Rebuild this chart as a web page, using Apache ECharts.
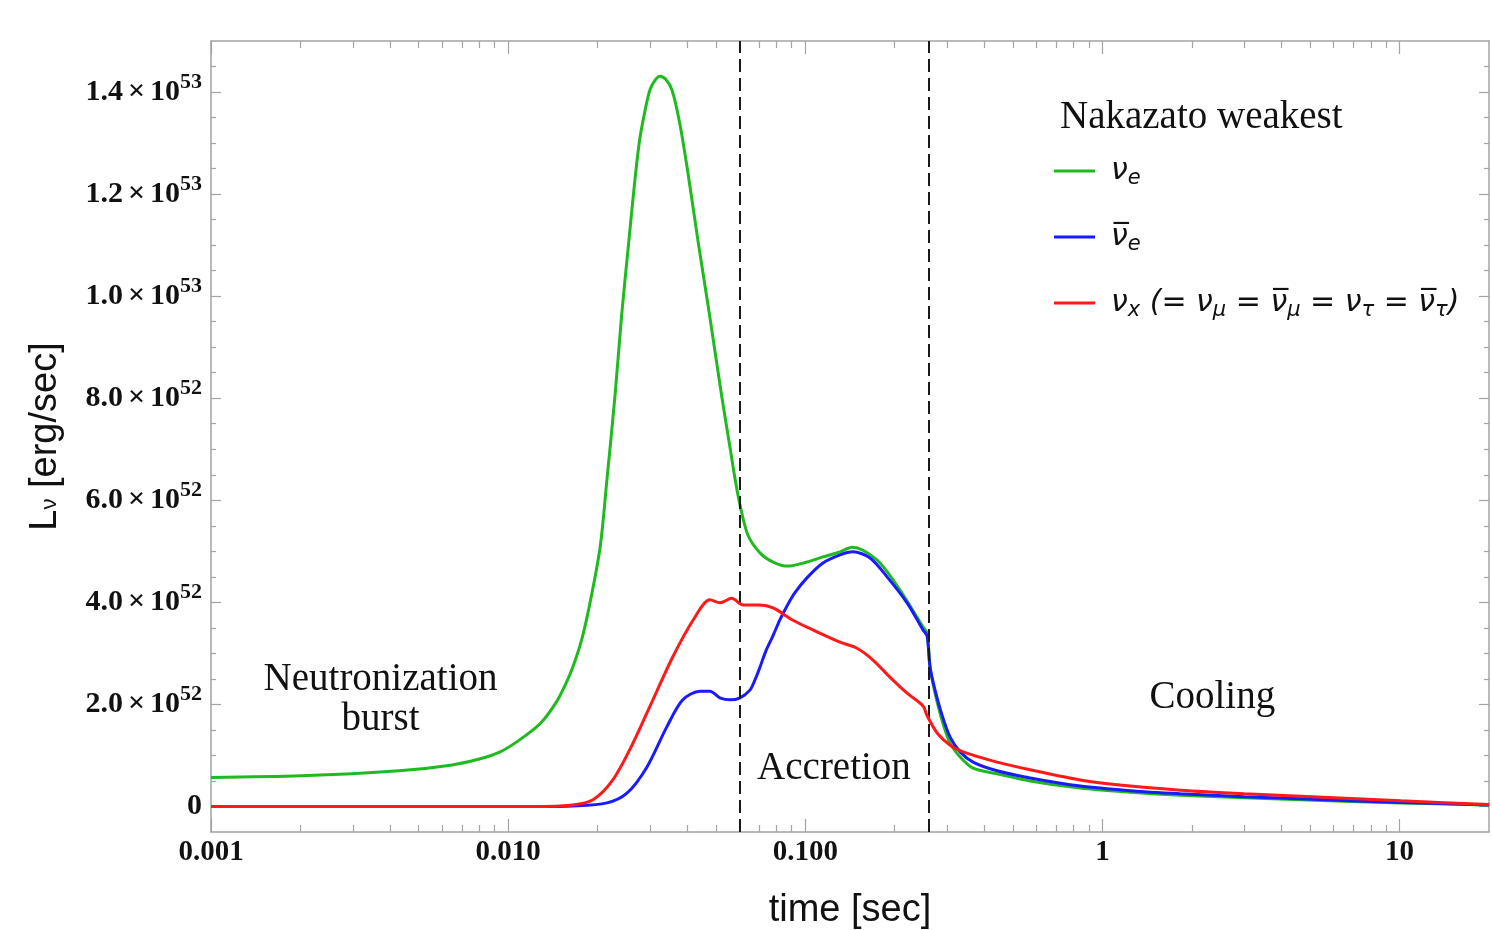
<!DOCTYPE html>
<html>
<head>
<meta charset="utf-8">
<script src="https://cdn.jsdelivr.net/npm/echarts@6/dist/echarts.min.js"></script>
<style>
  html, body { margin: 0; padding: 0; background: #fff; }
  #chart { width: 1492px; height: 930px; }
</style>
</head>
<body>
<div id="chart"></div>
<script>
// Neutrino luminosities, in units of 1e52 erg/sec, against time after bounce [sec]
const nueTime = [0.001, 0.002, 0.0043, 0.0064, 0.008, 0.0094, 0.0109, 0.0128, 0.0144, 0.0155,
  0.0165, 0.0177, 0.0188, 0.0204, 0.0215, 0.0229, 0.0241, 0.0255, 0.0267, 0.0277,
  0.0289, 0.030, 0.0312, 0.0324, 0.0339, 0.0356, 0.0378, 0.0403, 0.0435, 0.0478,
  0.0524, 0.0558, 0.058, 0.0603, 0.0641, 0.0704, 0.0779, 0.0874, 0.1013, 0.1147,
  0.1309, 0.1437, 0.1564, 0.1785, 0.2084, 0.249, 0.257, 0.263, 0.2734, 0.2886,
  0.3072, 0.332, 0.367, 0.442, 0.571, 0.842, 1.24, 1.83, 3.0, 4.64, 10.1, 20];
const nueLum = [0.57, 0.60, 0.70, 0.81, 0.93, 1.07, 1.30, 1.62, 2.01, 2.36,
  2.73, 3.28, 3.95, 5.08, 6.40, 8.06, 9.63, 11.10, 12.27, 13.06,
  13.64, 14.04, 14.23, 14.31, 14.25, 14.04, 13.39, 12.41, 11.10, 9.57,
  8.02, 7.04, 6.43, 5.91, 5.32, 4.97, 4.79, 4.71, 4.79, 4.89,
  4.99, 5.08, 5.02, 4.77, 4.24, 3.52, 3.40, 2.73, 2.22, 1.69,
  1.24, 0.97, 0.75, 0.64, 0.50, 0.36, 0.28, 0.22, 0.17, 0.13, 0.07, 0.03];

const nuebarTime = [0.001, 0.008, 0.0125, 0.0165, 0.0215, 0.0251, 0.0293, 0.0342, 0.0387, 0.0442,
  0.0478, 0.0516, 0.0558, 0.0603, 0.0651, 0.0677, 0.0704, 0.0737, 0.0779, 0.0822,
  0.0868, 0.0923, 0.1013, 0.1147, 0.1309, 0.1447, 0.1652, 0.1885, 0.2201, 0.249,
  0.257, 0.263, 0.2734, 0.2886, 0.3072, 0.332, 0.367, 0.442, 0.571, 0.842,
  1.24, 1.83, 3.0, 4.64, 10.1, 20];
const nuebarLum = [0, 0, 0, 0.01, 0.07, 0.26, 0.77, 1.56, 2.09, 2.26,
  2.26, 2.13, 2.09, 2.13, 2.28, 2.48, 2.73, 3.05, 3.35, 3.66,
  3.93, 4.19, 4.48, 4.77, 4.93, 4.99, 4.87, 4.50, 3.99, 3.46,
  3.34, 2.73, 2.28, 1.79, 1.36, 1.07, 0.87, 0.70, 0.56, 0.40,
  0.31, 0.25, 0.19, 0.15, 0.08, 0.03];

const nuxTime = [0.001, 0.008, 0.012, 0.0165, 0.0193, 0.0225, 0.0263, 0.0307, 0.0358, 0.0419,
  0.0478, 0.0516, 0.0566, 0.0617, 0.0704, 0.0779, 0.0909, 0.1061, 0.1309, 0.1493,
  0.169, 0.193, 0.2202, 0.249, 0.257, 0.2778, 0.3072, 0.3398, 0.442, 0.571,
  0.842, 1.24, 1.83, 3.0, 4.64, 10.1, 20];
const nuxLum = [0, 0, 0, 0.03, 0.13, 0.52, 1.24, 2.09, 2.93, 3.65,
  4.05, 3.99, 4.08, 3.95, 3.95, 3.89, 3.65, 3.46, 3.22, 3.10,
  2.87, 2.53, 2.22, 1.97, 1.78, 1.44, 1.20, 1.07, 0.87, 0.72,
  0.52, 0.40, 0.32, 0.25, 0.20, 0.11, 0.04];

// Phase boundaries [sec] and phase captions
const phaseBounds = [0.0607, 0.257];
const phaseNames = ['Neutronization\nburst', 'Accretion', 'Cooling'];
const phaseNameAt = [[0.00372, 2.09], [0.1249, 0.73], [2.343, 2.14]];

// Axis ticks
const xTicks = [0.001, 0.01, 0.1, 1, 10];
const xTickLabels = ['0.001', '0.010', '0.100', '1', '10'];
const yTicks = [0, 2, 4, 6, 8, 10, 12, 14];
const yTickLabels = ['0', '2.0×10^52', '4.0×10^52', '6.0×10^52', '8.0×10^52',
  '1.0×10^53', '1.2×10^53', '1.4×10^53'];

const seriesNames = ['nu_e', 'nubar_e', 'nu_x'];
const seriesColors = ['#1fba1f', '#1a1aff', '#ff1a1a'];
const legendTitle = 'Nakazato weakest';
const legendLabels = [
  '{p0|ν}{b|e}',
  '{p0|ν\u0305}{b|e}',
  '{p0|ν}{b|x}{p| (= ν}{b|μ}{p| = ν\u0305}{b|μ}{p| = ν}{b|τ}{p| = ν\u0305}{b|τ}{p|)}'
];

// Minor tick positions: 2..9 within each decade, and every 0.5 on the luminosity axis
const xMinor = [];
xTicks.forEach(d => { for (let k = 2; k <= 9; k++) { if (k * d < 20) xMinor.push(+(k * d).toPrecision(6)); } });
const yMinor = [];
for (let v = 0.5; v < 15; v += 0.5) { if (v % 2 !== 0) yMinor.push(v); }

const SERIF = '"Liberation Serif", "Times New Roman", serif';
const SANS = '"Liberation Sans", Arial, sans-serif';
const ITALIC_SANS = '"DejaVu Sans", "Liberation Sans", sans-serif';
const FRAME = '#a3a3a3';
const INK = '#111111';

const zip = (xs, ys) => xs.map((x, i) => [x, ys[i]]);

function xLabel(v) {
  for (let i = 0; i < xTicks.length; i++) {
    if (Math.abs(Math.log10(v) - Math.log10(xTicks[i])) < 1e-6) return xTickLabels[i];
  }
  return '';
}
function yLabel(v) {
  const i = yTicks.findIndex(t => Math.abs(t - v) < 1e-9);
  if (i < 0) return '';
  const s = yTickLabels[i];
  if (s.indexOf('×') < 0) return '{n|' + s + '}';
  const parts = s.split('×');
  const pw = parts[1].split('^');
  return '{n|' + parts[0] + '}{x|×}{n|' + pw[0] + '}{s|' + pw[1] + '}';
}

const xBase = { type: 'log', logBase: 10, min: 0.001, max: 20, splitLine: { show: false }, axisPointer: { show: false } };
const yBase = { type: 'value', min: -0.5, max: 15, splitLine: { show: false }, axisPointer: { show: false } };
const frameLine = { show: true, onZero: false, lineStyle: { color: FRAME, width: 1.5 } };
const noLine = { show: false, onZero: false };
const tickStyle = { color: FRAME, width: 1.2 };

const chart = echarts.init(document.getElementById('chart'), null, { renderer: 'canvas' });

const lineSeries = [[nueTime, nueLum], [nuebarTime, nuebarLum], [nuxTime, nuxLum]].map((s, i) => ({
  name: seriesNames[i],
  type: 'line',
  data: zip(s[0], s[1]),
  symbol: 'none',
  smooth: 0.3,
  color: seriesColors[i],
  itemStyle: { color: seriesColors[i] },
  lineStyle: { color: seriesColors[i], width: 3 },
  z: 3 + i
}));

lineSeries[0].markLine = {
  silent: true,
  symbol: ['none', 'none'],
  label: { show: false },
  lineStyle: { type: [13, 6], color: '#1a1a1a', width: 2 },
  data: phaseBounds.map(t => ({ xAxis: t }))
};

chart.setOption({
  animation: false,
  backgroundColor: '#ffffff',
  grid: { left: 211, right: 3, top: 41, bottom: 98, containLabel: false, outerBoundsMode: 'none' },
  title: {
    text: legendTitle, left: 1060, top: 98, padding: 0,
    textStyle: { fontFamily: SERIF, fontSize: 39, fontWeight: 'normal', color: INK }
  },
  legend: {
    data: seriesNames,
    orient: 'vertical', left: 1054, top: 153, padding: 0,
    icon: 'rect', itemWidth: 41, itemHeight: 3, itemGap: 30,
    selectedMode: false,
    formatter: name => legendLabels[seriesNames.indexOf(name)],
    textStyle: {
      color: INK,
      rich: {
        p0: { fontFamily: ITALIC_SANS, fontStyle: 'italic', fontSize: 30, lineHeight: 36, padding: [0, 0, 0, 11], color: INK },
        p: { fontFamily: ITALIC_SANS, fontStyle: 'italic', fontSize: 30, lineHeight: 36, color: INK },
        b: { fontFamily: ITALIC_SANS, fontStyle: 'italic', fontSize: 21, lineHeight: 21, padding: [15, 0, 0, 0], color: INK }
      }
    }
  },
  xAxis: [
    Object.assign({}, xBase, {
      position: 'bottom', axisLine: frameLine,
      axisTick: { show: true, inside: true, length: 13, customValues: xTicks, lineStyle: tickStyle },
      axisLabel: { customValues: xTicks, formatter: xLabel, margin: 6, fontFamily: SERIF, fontWeight: 'bold', fontSize: 29, lineHeight: 29, color: INK },
      name: 'time [sec]', nameLocation: 'middle', nameGap: 60,
      nameTextStyle: { fontFamily: SANS, fontSize: 38, lineHeight: 38, color: INK }
    }),
    Object.assign({}, xBase, {
      position: 'top', axisLine: frameLine,
      axisTick: { show: true, inside: true, length: 13, customValues: xTicks, lineStyle: tickStyle },
      axisLabel: { show: false }
    }),
    Object.assign({}, xBase, {
      position: 'bottom', axisLine: noLine,
      axisTick: { show: true, inside: true, length: 7, customValues: xMinor, lineStyle: tickStyle },
      axisLabel: { show: false }
    }),
    Object.assign({}, xBase, {
      position: 'top', axisLine: noLine,
      axisTick: { show: true, inside: true, length: 7, customValues: xMinor, lineStyle: tickStyle },
      axisLabel: { show: false }
    })
  ],
  yAxis: [
    Object.assign({}, yBase, {
      position: 'left', axisLine: frameLine,
      axisTick: { show: true, inside: true, length: 10, customValues: yTicks, lineStyle: tickStyle },
      axisLabel: {
        customValues: yTicks, formatter: yLabel, margin: 9,
        rich: {
          n: { fontFamily: SERIF, fontWeight: 'bold', fontSize: 30, lineHeight: 42, color: INK },
          x: { fontFamily: SERIF, fontWeight: 'bold', fontSize: 30, lineHeight: 42, padding: [0, 5, 0, 5], color: INK },
          s: { fontFamily: SERIF, fontWeight: 'bold', fontSize: 22, lineHeight: 22, padding: [0, 0, 20, 0], color: INK }
        }
      },
      name: '{a|L}{b|ν}{a| [erg/sec]}', nameLocation: 'middle', nameGap: 145,
      nameTextStyle: {
        rich: {
          a: { fontFamily: SANS, fontSize: 38, lineHeight: 40, color: INK },
          b: { fontFamily: SANS, fontSize: 22, lineHeight: 22, padding: [13, 0, 5, 0], color: INK }
        }
      }
    }),
    Object.assign({}, yBase, {
      position: 'right', axisLine: frameLine,
      axisTick: { show: true, inside: true, length: 10, customValues: yTicks, lineStyle: tickStyle },
      axisLabel: { show: false }
    }),
    Object.assign({}, yBase, {
      position: 'left', axisLine: noLine,
      axisTick: { show: true, inside: true, length: 5, customValues: yMinor, lineStyle: tickStyle },
      axisLabel: { show: false }
    }),
    Object.assign({}, yBase, {
      position: 'right', axisLine: noLine,
      axisTick: { show: true, inside: true, length: 5, customValues: yMinor, lineStyle: tickStyle },
      axisLabel: { show: false }
    })
  ],
  series: lineSeries.concat([{
    name: 'phases',
    type: 'scatter',
    silent: true,
    symbolSize: 1,
    itemStyle: { color: 'rgba(0,0,0,0)', opacity: 1 },
    data: phaseNames.map((n, i) => ({ name: n, value: phaseNameAt[i] })),
    label: {
      show: true, position: 'inside', formatter: '{b}', opacity: 1,
      fontFamily: SERIF, fontSize: 39, lineHeight: 40, color: INK, align: 'center'
    },
    z: 10
  }])
});
</script>
</body>
</html>
